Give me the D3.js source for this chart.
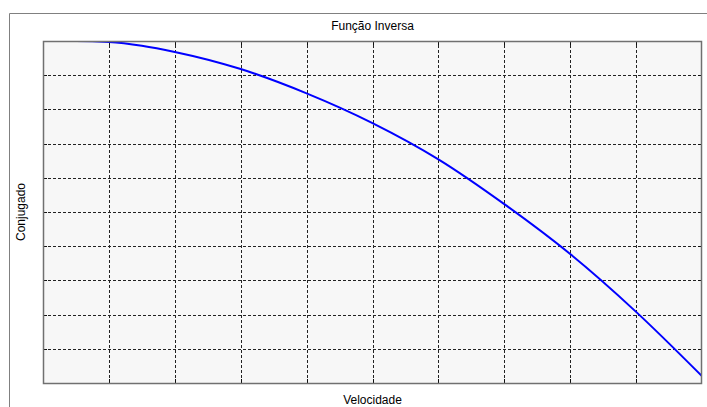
<!DOCTYPE html>
<html>
<head>
<meta charset="utf-8">
<script src="https://cdn.jsdelivr.net/npm/d3@7"></script>
<style>
  html, body { margin: 0; padding: 0; background: #ffffff; }
  svg { display: block; font-family: "Liberation Sans", Arial, sans-serif; }
</style>
</head>
<body>
<svg id="chart" width="707" height="407"></svg>
<script>
// Velocidade (x) and Conjugado (y) samples of the inverse function
const velocidade = [0, 0.5, 1, 1.5, 2, 3, 4, 5, 6, 7, 8, 9, 10];
const conjugado  = [10, 10, 9.97, 9.86, 9.68, 9.18, 8.47, 7.60, 6.54, 5.23, 3.77, 2.08, 0.20];

// Grid divisions (no tick labels are shown)
const xGridTicks = [1, 2, 3, 4, 5, 6, 7, 8, 9];
const yGridTicks = [1, 2, 3, 4, 5, 6, 7, 8, 9];

const title = "Função Inversa";
const xLabel = "Velocidade";
const yLabel = "Conjugado";

const svg = d3.select("#chart");
const W = 707, H = 407;
const margin = { left: 43, top: 41, right: 5, bottom: 24 };
const pw = W - margin.left - margin.right;
const ph = H - margin.top - margin.bottom;

const x = d3.scaleLinear().domain([0, 10]).range([0, pw]);
const y = d3.scaleLinear().domain([0, 10]).range([ph, 0]);

// window frame lines (top and left)
svg.append("line").attr("x1", 9.5).attr("x2", W).attr("y1", 13.5).attr("y2", 13.5)
  .attr("stroke", "#808080").attr("stroke-width", 1);
svg.append("line").attr("x1", 9.5).attr("x2", 9.5).attr("y1", 13.5).attr("y2", H)
  .attr("stroke", "#808080").attr("stroke-width", 1);

const g = svg.append("g").attr("transform", `translate(${margin.left},${margin.top})`);

g.append("rect").attr("width", pw).attr("height", ph).attr("fill", "#f7f7f7");

// dashed grid
const gridX = g.append("g").attr("transform", `translate(0,${ph})`)
  .call(d3.axisBottom(x).tickValues(xGridTicks).tickSize(-ph).tickFormat(""));
const gridY = g.append("g")
  .call(d3.axisLeft(y).tickValues(yGridTicks).tickSize(-pw).tickFormat(""));
[gridX, gridY].forEach(a => {
  a.select(".domain").remove();
  a.selectAll(".tick line")
    .attr("stroke", "#222")
    .attr("stroke-width", 1)
    .attr("stroke-dasharray", "3,2")
    .attr("shape-rendering", "crispEdges");
});

// short solid ticks on all four edges
const tickLen = 4;
const tickAxes = [
  g.append("g").attr("transform", `translate(0,${ph})`).call(d3.axisBottom(x).tickValues(xGridTicks).tickSize(-tickLen).tickFormat("")),
  g.append("g").call(d3.axisTop(x).tickValues(xGridTicks).tickSize(-tickLen).tickFormat("")),
  g.append("g").call(d3.axisLeft(y).tickValues(yGridTicks).tickSize(-tickLen).tickFormat("")),
  g.append("g").attr("transform", `translate(${pw},0)`).call(d3.axisRight(y).tickValues(yGridTicks).tickSize(-tickLen).tickFormat(""))
];
tickAxes.forEach(a => {
  a.select(".domain").remove();
  a.selectAll(".tick line").attr("stroke", "#111").attr("shape-rendering", "crispEdges");
});

// curve
const line = d3.line()
  .x((d, i) => x(velocidade[i]))
  .y(d => y(d))
  .curve(d3.curveMonotoneX);

g.append("clipPath").attr("id", "clip")
  .append("rect").attr("width", pw).attr("height", ph);

g.append("path")
  .datum(conjugado)
  .attr("clip-path", "url(#clip)")
  .attr("fill", "none")
  .attr("stroke", "#0000ff")
  .attr("stroke-width", 2)
  .attr("d", line);

// plot border
g.append("rect").attr("x", 0.5).attr("y", 0.5).attr("width", pw - 1).attr("height", ph)
  .attr("fill", "none").attr("stroke", "#707070").attr("stroke-width", 1.5);

// texts
svg.append("text").attr("x", margin.left + pw / 2).attr("y", 30)
  .attr("text-anchor", "middle").attr("font-size", 12).attr("fill", "#000").text(title);
svg.append("text").attr("x", margin.left + pw / 2).attr("y", 404)
  .attr("text-anchor", "middle").attr("font-size", 12).attr("fill", "#000").text(xLabel);
svg.append("text")
  .attr("transform", `translate(25,${margin.top + ph / 2}) rotate(-90)`)
  .attr("text-anchor", "middle").attr("font-size", 12).attr("fill", "#000").text(yLabel);
</script>
</body>
</html>
